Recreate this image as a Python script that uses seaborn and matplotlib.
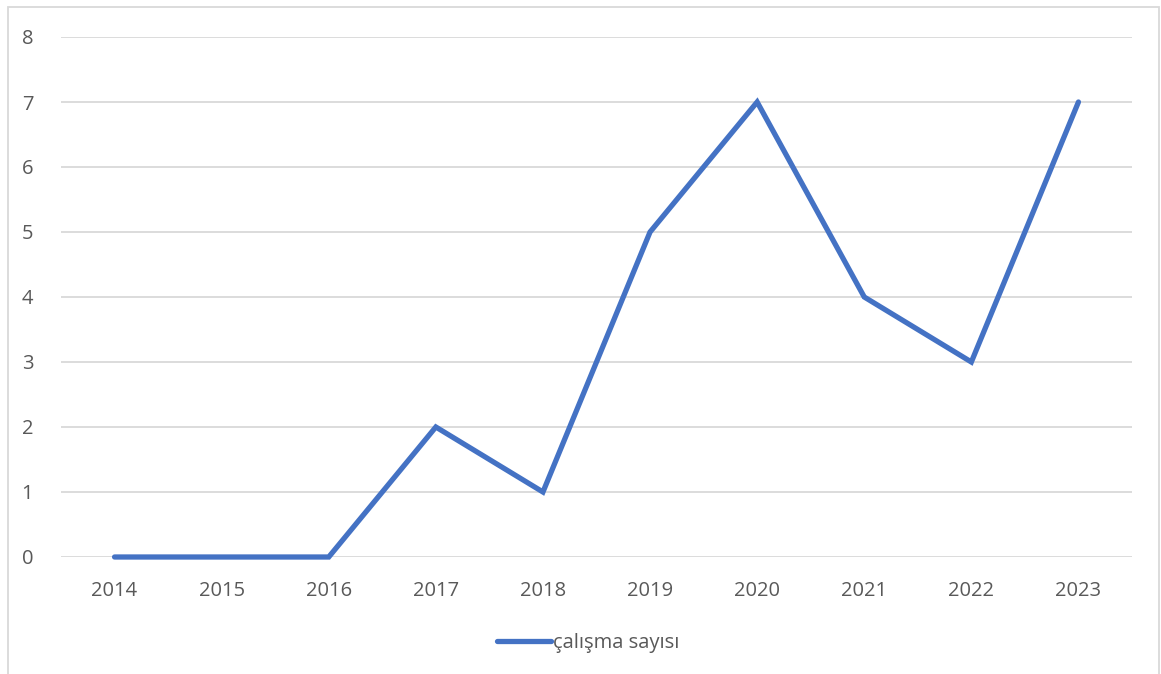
import matplotlib
matplotlib.use("Agg")
import matplotlib.pyplot as plt
from matplotlib.patches import Rectangle
import seaborn as sns
import pandas as pd

years = ["2014", "2015", "2016", "2017", "2018", "2019", "2020", "2021", "2022", "2023"]
counts = [0, 0, 0, 2, 1, 5, 7, 4, 3, 7]
series_name = "çalışma sayısı"
y_ticks = [0, 1, 2, 3, 4, 5, 6, 7, 8]

df = pd.DataFrame({"year": years, "count": counts, "series": series_name})

sns.set_style("white")
plt.rcParams["font.family"] = ["Open Sans", "DejaVu Sans"]

W, H = 1161, 674
fig = plt.figure(figsize=(W / 100, H / 100), dpi=100)
ax = fig.add_axes([61 / W, 1 - 557 / H, (1132 - 61) / W, (557 - 37) / H])

sns.lineplot(data=df, x="year", y="count", hue="series", palette=["#4472C4"],
             linewidth=3.8, sort=False, ax=ax, legend=True,
             solid_capstyle="round", solid_joinstyle="miter")
for ln in ax.lines:
    ln.set_clip_on(False)

ax.set_xlim(-0.5, len(years) - 0.5)
ax.set_ylim(0, 8)
ax.set_yticks(y_ticks)
ax.grid(axis="y", color="#D9D9D9", linewidth=1.3)
ax.set_axisbelow(True)
for s in ax.spines.values():
    s.set_visible(False)
ax.tick_params(axis="both", length=0, labelsize=14.5, labelcolor="#595959")
ax.tick_params(axis="y", pad=20)
ax.tick_params(axis="x", pad=17)
ax.set_xlabel("")
ax.set_ylabel("")

handles, labels = ax.get_legend_handles_labels()
ax.get_legend().remove()
leg = fig.legend(handles, labels, loc="center", bbox_to_anchor=(588 / W, 1 - 643 / H),
                 frameon=False, fontsize=14.5, handlelength=2.7, handletextpad=0.05,
                 labelcolor="#595959")

fig.patches.append(Rectangle((8 / W, -0.05), (1159 - 8) / W, 1 - 7 / H + 0.05,
                             transform=fig.transFigure, fill=False,
                             edgecolor="#D9D9D9", linewidth=1.3))

fig.savefig("out.png", dpi=100)
